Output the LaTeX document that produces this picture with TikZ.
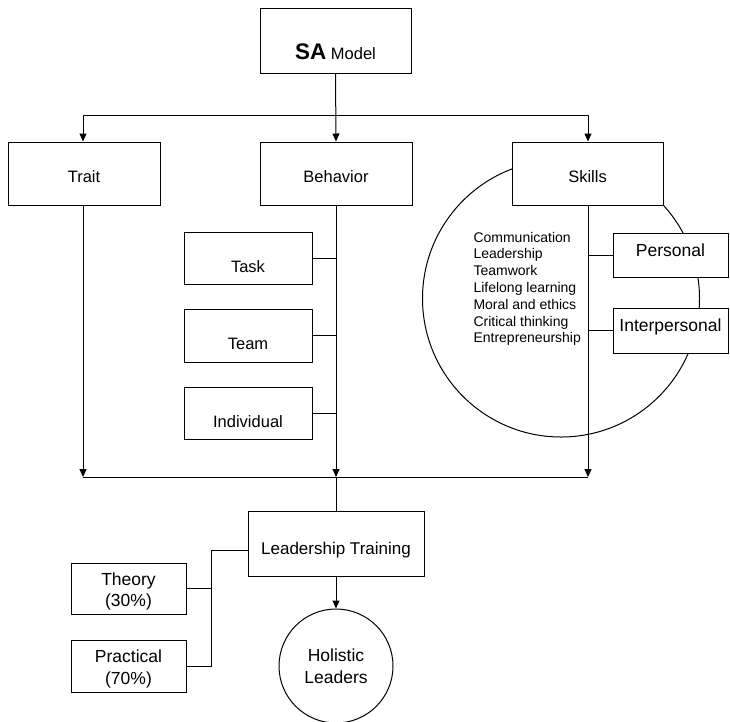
\documentclass[tikz,border=0pt]{standalone}
\usepackage{fontspec}
\setmainfont{Liberation Sans}
\usetikzlibrary{arrows.meta,calc}
\newcommand{\lowr}[2]{\raisebox{-#1}[\height][\depth]{#2}}
\begin{document}
\begin{tikzpicture}[x=1pt,y=-1pt,
  line width=1pt,
  box/.style={draw, fill=white, rectangle, inner sep=0pt, align=center},
  ftop/.style={font=\fontsize{16.5}{19}\selectfont},
  fbot/.style={font=\fontsize{17.5}{21.5}\selectfont},
  arr/.style={-{Triangle[length=8pt,width=7pt]}},
  con/.style={line width=1pt}
]
\useasboundingbox (0,0) rectangle (730,721);
% skills circle
\draw (561,298.5) circle[radius=138.5pt];

\node[box, minimum width=151pt, minimum height=65pt, ftop] (sa) at (335.5,40.5)
  {\lowr{11pt}{{\fontsize{22.5}{24}\selectfont\bfseries SA} Model}};

\node[box, minimum width=152pt, minimum height=63pt, ftop] (trait) at (84,173.5) {\lowr{3pt}{Trait}};
\node[box, minimum width=152pt, minimum height=63pt, ftop] (beh) at (336,173.5) {\lowr{3pt}{Behavior}};
\node[box, minimum width=151pt, minimum height=63pt, ftop] (sk) at (587.5,173.5) {\lowr{3pt}{Skills}};

\node[box, minimum width=128pt, minimum height=52pt, ftop] (task) at (248,258) {\lowr{9pt}{Task}};
\node[box, minimum width=128pt, minimum height=53pt, ftop] (team) at (248,335.5) {\lowr{8.5pt}{Team}};
\node[box, minimum width=128pt, minimum height=52pt, ftop] (ind) at (248,413) {\lowr{8.5pt}{Individual}};

\node[box, minimum width=115pt, minimum height=44pt, fbot] (pers) at (670.5,255) {\lowr{-5pt}{Personal}};
\node[box, minimum width=115pt, minimum height=45pt, fbot] (inter) at (670.5,330.5) {\lowr{-4pt}{Interpersonal}};

\node[anchor=north west, inner sep=0pt, align=left, font=\fontsize{14}{16.8}\selectfont] (list) at (473,231.5)
  {Communication\\Leadership\\Teamwork\\Lifelong learning\\Moral and ethics\\Critical thinking\\Entrepreneurship};

\node[box, minimum width=176pt, minimum height=65pt, font=\fontsize{17}{20}\selectfont] (lt) at (336,543.5) {\lowr{7pt}{Leadership Training}};
\node[box, minimum width=115pt, minimum height=51pt, fbot] (theory) at (128.5,588.5) {\lowr{3pt}{Theory}\\\lowr{3pt}{(30\%)}};
\node[box, minimum width=115pt, minimum height=52pt, fbot] (prac) at (128.5,666) {\lowr{3pt}{Practical}\\\lowr{3pt}{(70\%)}};
\node[box, circle, minimum size=114pt, fbot] (hol) at (336,666) {Holistic\\Leaders};

% coordinates
\coordinate (tl) at (83,115);
\coordinate (tr) at (588,115);
\coordinate (bl) at (83,477);
\coordinate (bm) at (336,477);
\coordinate (br) at (588,477);
\coordinate (jx) at (211,550);

% top distribution
\draw[con] (tl) -- (tr);
\draw[arr] (sa.south) -- (beh.north);
\draw[arr] (tl) -- (tl |- trait.north);
\draw[arr] (tr) -- (tr |- sk.north);

% behavior branch
\draw[con] (task.east) -- (task.east -| beh.south);
\draw[con] (team.east) -- (team.east -| beh.south);
\draw[con] (ind.east) -- (ind.east -| beh.south);

% skills branch
\draw[con] (pers.west) -- (pers.west -| br);
\draw[con] (inter.west) -- (inter.west -| br);

% down to bottom line
\draw[arr] (trait.south -| bl) -- (bl);
\draw[arr] (beh.south) -- (bm);
\draw[arr] (sk.south -| br) -- (br);
\draw[con] (bl) -- (br);
\draw[con] (bm) -- (lt.north);

% training
\draw[con] (lt.west |- jx) -- (jx) |- (prac.east);
\draw[con] (theory.east) -- (theory.east -| jx);
\draw[arr] (lt.south) -- (hol.north);
\end{tikzpicture}
\end{document}
